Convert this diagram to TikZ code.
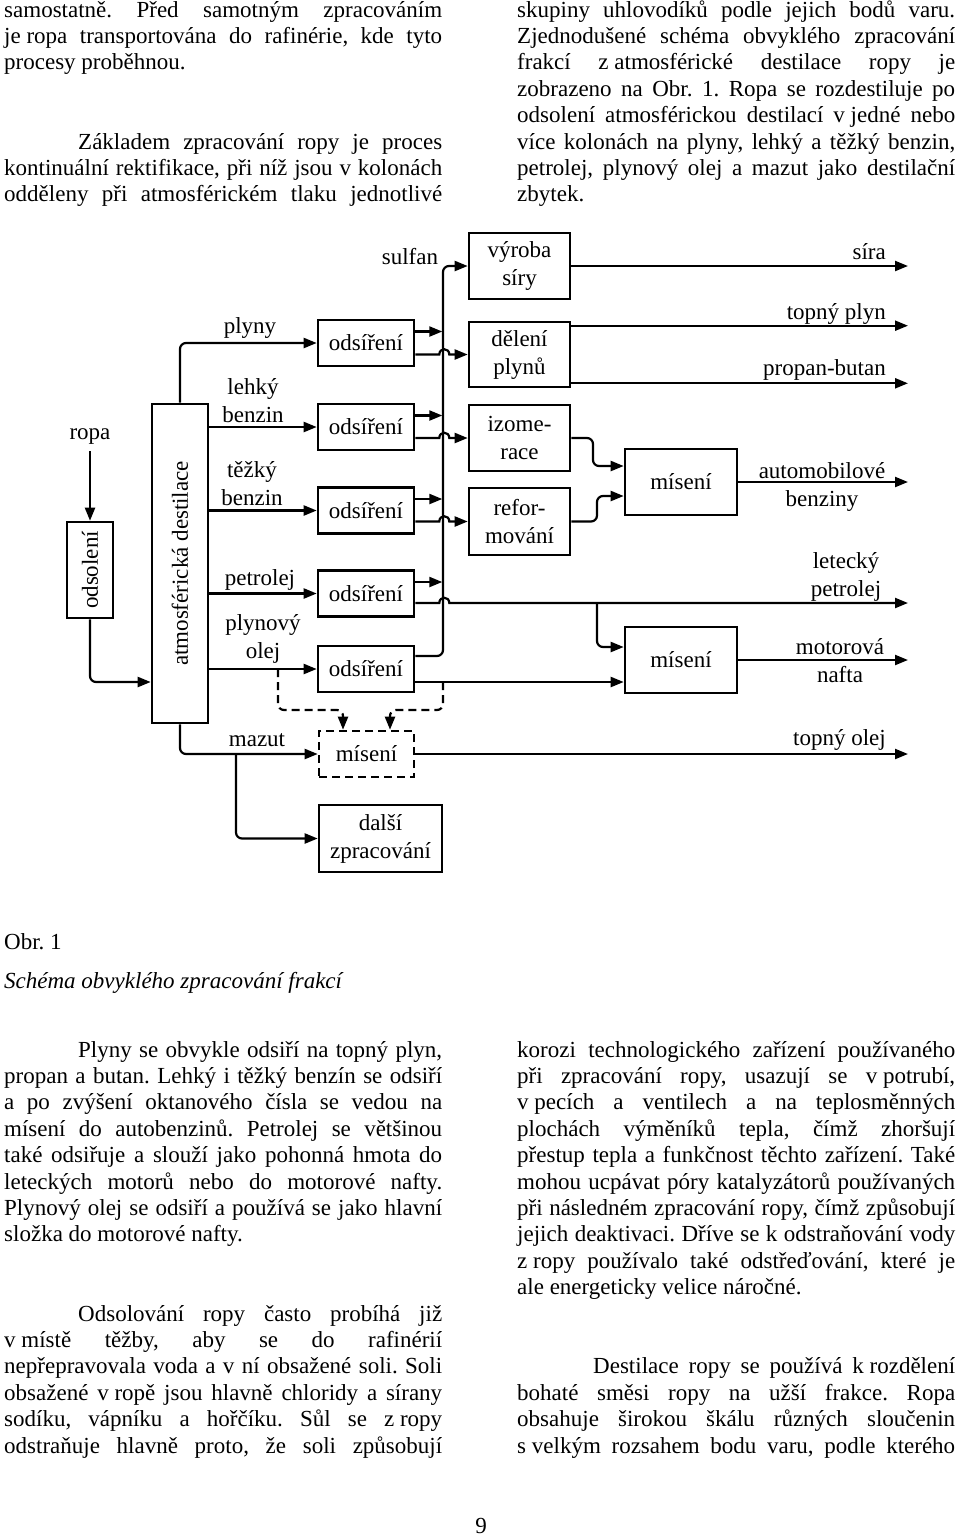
\documentclass[tikz,border=0pt]{standalone}
\usepackage{fontspec}
\usepackage{graphicx}
\setmainfont{Liberation Serif}
\usetikzlibrary{arrows.meta,calc}
\frenchspacing
\newcommand{\bodyfont}{\fontsize{23pt}{26.4pt}\selectfont\frenchspacing}
\newcommand{\dfont}{\fontsize{23pt}{28pt}\selectfont}
\newcommand{\tline}[5]{\node[txt] (#1) at (#2,#3) {\makebox[#4pt][s]{#5}};}
\begin{document}
\begin{tikzpicture}[x=1pt,y=-1pt,
 txt/.style={anchor=base west,inner sep=0pt,font=\bodyfont},
 box/.style={draw,line width=2.6pt,inner sep=0pt,font=\dfont,align=center},
 lbl/.style={inner sep=0pt,font=\dfont,align=center},
 arr/.style={line width=2.2pt,-{Triangle[length=13pt,width=10pt]}},
 dsh/.style={dash pattern=on 8pt off 5pt}]
\fill[white] (0,0) rectangle (960,1537);
\useasboundingbox (0,0) rectangle (960,1537);

% ---------- top text ----------
\tline{a1}{4}{17}{438}{samostatně. Před samotným zpracováním}
\tline{a2}{4}{43.4}{438}{\mbox{je ropa} transportována do rafinérie, kde tyto}
\node[txt] (a3) at (4,69.8) {procesy proběhnou.};
\tline{a4}{78}{149}{364}{Základem zpracování ropy je proces}
\tline{a5}{4}{175.4}{438}{kontinuální rektifikace, při níž jsou v kolonách}
\tline{a6}{4}{201.8}{438}{odděleny při atmosférickém tlaku jednotlivé}

\tline{b1}{517}{17}{438}{skupiny uhlovodíků podle jejich bodů varu.}
\tline{b2}{517}{43.4}{438}{Zjednodušené schéma obvyklého zpracování}
\tline{b3}{517}{69.8}{438}{frakcí \mbox{z atmosférické} destilace ropy je}
\tline{b4}{517}{96.2}{438}{zobrazeno na Obr. 1. Ropa se rozdestiluje po}
\tline{b5}{517}{122.6}{438}{odsolení atmosférickou destilací \mbox{v jedné} nebo}
\tline{b6}{517}{149}{438}{více kolonách na plyny, lehký a těžký benzin,}
\tline{b7}{517}{175.4}{438}{petrolej, plynový olej a mazut jako destilační}
\node[txt] (b8) at (517,201.8) {zbytek.};

% ---------- diagram boxes ----------
\node[box,minimum width=46pt,minimum height=96pt] (odsol) at (90,570) {\rotatebox{90}{odsolení}};
\node[box,minimum width=56pt,minimum height=319pt] (dest) at (180,563.5) {\rotatebox{90}{atmosférická destilace}};
\node[box,minimum width=96pt,minimum height=46pt] (ods1) at (366,343) {odsíření};
\node[box,minimum width=96pt,minimum height=46pt] (ods2) at (366,427) {odsíření};
\node[box,minimum width=96pt,minimum height=46pt] (ods3) at (366,510.5) {odsíření};
\node[box,minimum width=96pt,minimum height=46pt] (ods4) at (366,593.5) {odsíření};
\node[box,minimum width=96pt,minimum height=46pt] (ods5) at (366,669) {odsíření};
\node[box,minimum width=101pt,minimum height=66pt] (vyr) at (519.5,266) {výroba\\síry};
\node[box,minimum width=101pt,minimum height=65pt] (del) at (519.5,354.5) {dělení\\plynů};
\node[box,minimum width=101pt,minimum height=66pt] (izo) at (519.5,438) {izome-\\race};
\node[box,minimum width=101pt,minimum height=67pt] (ref) at (519.5,521.5) {refor-\\mování};
\node[box,minimum width=112pt,minimum height=66pt] (mis1) at (681,482) {mísení};
\node[box,minimum width=112pt,minimum height=66pt] (mis2) at (681,660) {mísení};
\node[box,dsh,minimum width=95pt,minimum height=46pt] (mis3) at (366.5,754) {mísení};
\node[box,minimum width=123pt,minimum height=67pt] (dal) at (380.5,838.5) {další\\zpracování};

% ---------- labels ----------
\node[lbl] (ropa) at (90,437) {ropa};
\node[lbl] (sulfan) at (410,257) {sulfan};
\node[lbl] (plyny) at (250,328) {plyny};
\node[lbl] (lehky) at (253,401) {lehký\\benzin};
\node[lbl] (tezky) at (252,483.5) {těžký\\benzin};
\node[lbl] (petr) at (260,580) {petrolej};
\node[lbl] (plol) at (263,638.5) {plynový\\olej};
\node[lbl] (mazut) at (257,740) {mazut};
\node[lbl,anchor=east] (sira) at (886,252) {síra};
\node[lbl,anchor=east] (tplyn) at (886,314) {topný plyn};
\node[lbl,anchor=east] (pbut) at (886,370) {propan-butan};
\node[lbl] (auto) at (822,486.5) {automobilové\\benziny};
\node[lbl] (letp) at (846,576.5) {letecký\\petrolej};
\node[lbl] (motn) at (840,660.5) {motorová\\nafta};
\node[lbl,anchor=east] (tolej) at (886,740) {topný olej};

% ---------- coordinates ----------
\coordinate (R) at (908,0);
\coordinate (bus) at (443,0);
\coordinate (y682) at (0,682);
\coordinate (y603) at (0,603);
\coordinate (y647) at (0,647);
\coordinate (mzb) at (236,754);
\coordinate (dA) at (278,669);
\coordinate (dAc) at (343,710);
\coordinate (dB) at (443,682);
\coordinate (dBc) at (390,710);
\coordinate (iz1) at (593,466);
\coordinate (rf1) at (597,496);
\coordinate (pb1) at (597,603);
\coordinate (dt) at ($(del.north east)+(0,5)$);
\coordinate (db) at ($(del.south east)+(0,-5)$);

% ---------- connectors ----------
\draw[arr,shorten <=6pt] (ropa.south) -- (odsol.north);
\draw[arr,rounded corners=6pt] (odsol.south) |- (dest.west |- y682);
\draw[arr,rounded corners=6pt] (dest.north) |- (ods1.west);
\draw[arr] (dest.east |- ods2.west) -- (ods2.west);
\draw[arr] (dest.east |- ods3.west) -- (ods3.west);
\draw[arr] (dest.east |- ods4.west) -- (ods4.west);
\draw[arr] (dest.east |- ods5.west) -- (ods5.west);
\draw[arr,rounded corners=6pt] (dest.south) |- (mis3.west);
\draw[arr,rounded corners=6pt] (mzb) |- (dal.west);

% upper outputs into the sulfan line
\draw[arr] (ods1.east) ++(0,-11.5) -- ++(27,0);
\draw[arr] (ods2.east) ++(0,-11.5) -- ++(27,0);
\draw[arr] (ods3.east) ++(0,-11.5) -- ++(27,0);
\draw[arr] (ods4.east) ++(0,-11.5) -- ++(27,0);
\draw[arr,rounded corners=6pt] (ods5.east) ++(0,-13) -| (bus |- vyr.west) -- (vyr.west);

% lower outputs jumping over the sulfan line
\draw[arr] (ods1.east |- del.west) -- ++(24,0) .. controls +(0,-7) and +(0,-7) .. ++(10,0) -- (del.west);
\draw[arr] (ods2.east |- izo.west) -- ++(24,0) .. controls +(0,-7) and +(0,-7) .. ++(10,0) -- (izo.west);
\draw[arr] (ods3.east |- ref.west) -- ++(24,0) .. controls +(0,-7) and +(0,-7) .. ++(10,0) -- (ref.west);
\draw[arr] (ods4.east |- y603) -- ++(24,0) .. controls +(0,-7) and +(0,-7) .. ++(10,0) -- (R |- y603);
\draw[arr] (ods5.east |- y682) -- (mis2.west |- y682);

% dashed branches
\draw[arr,dsh,rounded corners=6pt] (dA) |- (dAc) -- (dAc |- mis3.north);
\draw[arr,dsh,rounded corners=6pt] (dB) |- (dBc) -- (dBc |- mis3.north);

% into the mixing boxes
\draw[arr,rounded corners=6pt] (izo.east) -| (iz1) -- (mis1.west |- iz1);
\draw[arr,rounded corners=6pt] (ref.east) -| (rf1) -- (mis1.west |- rf1);
\draw[arr,rounded corners=6pt] (pb1) |- (mis2.west |- y647);

% products
\draw[arr] (vyr.east) -- (R |- vyr.east);
\draw[arr] (dt) -- (R |- dt);
\draw[arr] (db) -- (R |- db);
\draw[arr] (mis1.east) -- (R |- mis1.east);
\draw[arr] (mis2.east) -- (R |- mis2.east);
\draw[arr] (mis3.east) -- (R |- mis3.east);

% ---------- caption ----------
\node[txt] (c1) at (4,949) {Obr. 1};
\node[txt] (c2) at (4,988) {\itshape Schéma obvyklého zpracování frakcí};

% ---------- bottom text, left ----------
\tline{l1}{78}{1057}{364}{Plyny se obvykle odsiří na topný plyn,}
\tline{l2}{4}{1083.4}{438}{propan a butan. Lehký i těžký benzín se odsiří}
\tline{l3}{4}{1109.8}{438}{a po zvýšení oktanového čísla se vedou na}
\tline{l4}{4}{1136.2}{438}{mísení do autobenzinů. Petrolej se většinou}
\tline{l5}{4}{1162.6}{438}{také odsiřuje a slouží jako pohonná hmota do}
\tline{l6}{4}{1189}{438}{leteckých motorů nebo do motorové nafty.}
\tline{l7}{4}{1215.4}{438}{Plynový olej se odsiří a používá se jako hlavní}
\node[txt] (l8) at (4,1241.8) {složka do motorové nafty.};
\tline{l9}{78}{1321}{364}{Odsolování ropy často probíhá již}
\tline{l10}{4}{1347.4}{438}{\mbox{v místě} těžby, aby se do rafinérií}
\tline{l11}{4}{1373.8}{438}{nepřepravovala voda a v ní obsažené soli. Soli}
\tline{l12}{4}{1400.2}{438}{obsažené \mbox{v ropě} jsou hlavně chloridy a sírany}
\tline{l13}{4}{1426.6}{438}{sodíku, vápníku a hořčíku. Sůl se \mbox{z ropy}}
\tline{l14}{4}{1453}{438}{odstraňuje hlavně proto, že soli způsobují}

% ---------- bottom text, right ----------
\tline{r1}{517}{1057}{438}{korozi technologického zařízení používaného}
\tline{r2}{517}{1083.4}{438}{při zpracování ropy, usazují se \mbox{v potrubí,}}
\tline{r3}{517}{1109.8}{438}{\mbox{v pecích} a ventilech a na teplosměnných}
\tline{r4}{517}{1136.2}{438}{plochách výměníků tepla, čímž zhoršují}
\tline{r5}{517}{1162.6}{438}{přestup tepla a funkčnost těchto zařízení. Také}
\tline{r6}{517}{1189}{438}{mohou ucpávat póry katalyzátorů používaných}
\tline{r7}{517}{1215.4}{438}{při následném zpracování ropy, čímž způsobují}
\tline{r8}{517}{1241.8}{438}{jejich deaktivaci. Dříve se k odstraňování vody}
\tline{r9}{517}{1268.2}{438}{\mbox{z ropy} používalo také odstřeďování, které je}
\node[txt] (r10) at (517,1294.6) {ale energeticky velice náročné.};
\tline{r11}{593}{1373.8}{362}{Destilace ropy se používá \mbox{k rozdělení}}
\tline{r12}{517}{1400.2}{438}{bohaté směsi ropy na užší frakce. Ropa}
\tline{r13}{517}{1426.6}{438}{obsahuje širokou škálu různých sloučenin}
\tline{r14}{517}{1453}{438}{\mbox{s velkým} rozsahem bodu varu, podle kterého}

\node[txt,anchor=base] (pg) at (481,1533) {9};
\end{tikzpicture}
\end{document}
